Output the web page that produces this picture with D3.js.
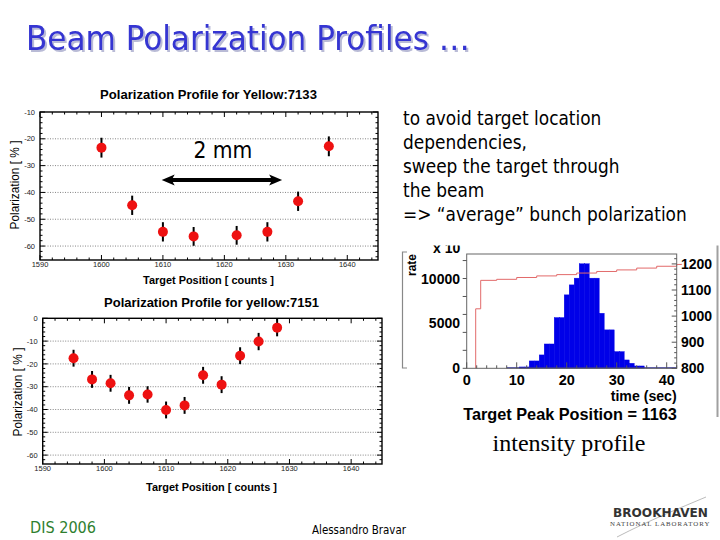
<!DOCTYPE html>
<html><head><meta charset="utf-8">
<script src="https://cdn.jsdelivr.net/npm/d3@7"></script>
<style>body{margin:0;background:#fff}svg{display:block}</style>
</head><body>
<svg id="c" width="720" height="540"></svg>
<script>
// ---------- data ----------
const profileTickX = [1590, 1600, 1610, 1620, 1630, 1640];

const run7133Pos = [1600, 1605, 1610, 1615, 1622, 1627, 1632, 1637];
const run7133Pol = [-23.3, -44.8, -54.7, -56.4, -56.0, -54.7, -43.3, -22.8];
const run7133Err = [3.7, 3.6, 3.6, 3.5, 3.5, 3.6, 3.6, 3.7];
const run7133TickY = [-10, -20, -30, -40, -50, -60];

const run7151Pos = [1595, 1598, 1601, 1604, 1607, 1610, 1613, 1616, 1619, 1622, 1625, 1628];
const run7151Pol = [-17.5, -26.8, -28.5, -33.8, -33.4, -40.2, -38.2, -25.0, -29.1, -16.4, -10.2, -4.1];
const run7151Err = [3.7, 3.7, 3.7, 3.7, 3.6, 3.7, 3.7, 3.7, 3.7, 3.7, 3.8, 3.8];
const run7151TickY = [0, -10, -20, -30, -40, -50, -60];

const histBinStart = [10.5, 11.5, 12.5, 13.5, 14.5, 15.5, 16.5, 17.5, 18.5, 19.5, 20.5, 21.5, 22.5,
                      23.5, 24.5, 25.5, 26.5, 27.5, 28.5, 29.5, 30.5, 31.5, 32.5, 33.5, 34.5];
const histRate = [150, 150, 820, 820, 1490, 2710, 2710, 5650, 5650, 8180, 9290, 10040, 11640,
                  11640, 10040, 10040, 6130, 4280, 4280, 1860, 1860, 930, 560, 260, 260];
const histTickX = [0, 10, 20, 30, 40];
const histTickLeft = [0, 5000, 10000];
const histTickRight = [800, 900, 1000, 1100, 1200];
const targetTime = [1.8, 1.8, 2.8, 6, 10, 14, 18, 22, 26, 30, 34, 38, 42, 43];
const targetPos  = [800, 1028, 1137, 1141, 1148, 1154, 1159, 1165, 1171, 1177, 1184, 1191, 1198, 1200];

const bodyLines = ["to avoid target location", "dependencies,", "sweep the target through",
                   "the beam", "=> \u201caverage\u201d bunch polarization"];

// ---------- helpers ----------
const svg = d3.select("#c");
function fit(sel, w) {
  const n = sel.node(); const L = n.getComputedTextLength();
  const fs = parseFloat(sel.attr("font-size"));
  if (L > 0) sel.attr("font-size", (fs * w / L).toFixed(2));
  return sel;
}
const rootFont = "'Liberation Sans', Arial, Helvetica, sans-serif";
const slideFont = "'DejaVu Sans Condensed', 'DejaVu Sans', Tahoma, sans-serif";

// ---------- title ----------
const T = "Beam Polarization Profiles \u2026";
const tt = svg.append("text").attr("x", 26).attr("y", 49.5).attr("font-family", slideFont)
  .attr("font-size", 38).attr("fill", "#3535d2")
  .style("filter", "drop-shadow(2px 2px 0px #b9bbd6)").text(T);
fit(tt, 444);

// ---------- profile plots ----------
function profile(o) {
  const g = svg.append("g");
  const x = d3.scaleLinear().domain([1590, 1645]).range([o.l, o.r]);
  const y = d3.scaleLinear().domain(o.yDom).range([o.b, o.t]);
  g.selectAll(".grid").data(o.tickY.filter(v => y(v) > o.t + 2)).join("line")
    .attr("x1", o.l).attr("x2", o.r).attr("y1", d => y(d)).attr("y2", d => y(d))
    .attr("stroke", "#666").attr("stroke-width", 0.8).attr("stroke-dasharray", "1,1.5");
  const xt = x.ticks(28), yt = y.ticks(30);
  xt.forEach(v => {
    const maj = v % 10 === 0, len = maj ? 5 : 2.5;
    g.append("line").attr("x1", x(v)).attr("x2", x(v)).attr("y1", o.b).attr("y2", o.b - len).attr("stroke", "#000");
    g.append("line").attr("x1", x(v)).attr("x2", x(v)).attr("y1", o.t).attr("y2", o.t + len).attr("stroke", "#000");
  });
  yt.forEach(v => {
    const maj = v % 10 === 0, len = maj ? 5 : 2.5;
    g.append("line").attr("y1", y(v)).attr("y2", y(v)).attr("x1", o.l).attr("x2", o.l + len).attr("stroke", "#000");
    g.append("line").attr("y1", y(v)).attr("y2", y(v)).attr("x1", o.r).attr("x2", o.r - len).attr("stroke", "#000");
  });
  g.append("rect").attr("x", o.l).attr("y", o.t).attr("width", o.r - o.l).attr("height", o.b - o.t)
    .attr("fill", "none").attr("stroke", "#000").attr("stroke-width", 1.4);
  g.selectAll(".xl").data(profileTickX).join("text").attr("x", d => x(d)).attr("y", o.b + 7)
    .attr("text-anchor", "middle").attr("font-family", rootFont).attr("font-size", 7.5)
    .attr("fill", "#222").text(d => d);
  g.selectAll(".yl").data(o.tickY).join("text").attr("x", o.l - 5).attr("y", d => y(d) + 2.6)
    .attr("text-anchor", "end").attr("font-family", rootFont).attr("font-size", 7.5)
    .attr("fill", "#222").text(d => d);
  fit(g.append("text").attr("x", o.titleX).attr("y", o.titleY).attr("text-anchor", "middle")
    .attr("font-family", rootFont).attr("font-weight", "bold").attr("font-size", 12).text(o.title), o.titleW);
  fit(g.append("text").attr("x", o.titleX).attr("y", o.xlabY).attr("text-anchor", "middle")
    .attr("font-family", rootFont).attr("font-weight", "bold").attr("font-size", 12)
    .text("Target Position [ counts ]"), 131);
  fit(g.append("text").attr("transform", `translate(${o.ylabX},${o.ylabY}) rotate(-90)`)
    .attr("text-anchor", "middle").attr("font-family", rootFont).attr("font-size", 11)
    .text("Polarization [ % ]"), 89);
  const pts = o.pos.map((p, i) => ({ p, v: o.pol[i], e: o.err[i] }));
  g.selectAll(".eb").data(pts).join("line").attr("x1", d => x(d.p)).attr("x2", d => x(d.p))
    .attr("y1", d => y(d.v - d.e)).attr("y2", d => y(d.v + d.e)).attr("stroke", "#000").attr("stroke-width", 2);
  g.selectAll(".pt").data(pts).join("circle").attr("cx", d => x(d.p)).attr("cy", d => y(d.v))
    .attr("r", 5).attr("fill", "#ee1111");
  return { x, y, g };
}

const P1 = profile({ l: 40, r: 378, t: 112, b: 260, yDom: [-65.2, -10], tickY: run7133TickY,
  pos: run7133Pos, pol: run7133Pol, err: run7133Err, title: "Polarization Profile for Yellow:7133",
  titleX: 208.5, titleY: 99.3, titleW: 217, xlabY: 283.5, ylabX: 19, ylabY: 185 });
const P2 = profile({ l: 42.7, r: 382, t: 318.3, b: 464, yDom: [-63.9, 0], tickY: run7151TickY,
  pos: run7151Pos, pol: run7151Pol, err: run7151Err, title: "Polarization Profile for yellow:7151",
  titleX: 211.5, titleY: 306.7, titleW: 215, xlabY: 490.5, ylabX: 22, ylabY: 392 });

// 2 mm annotation (in data units of the first plot)
const arrowFrom = 1609.8, arrowTo = 1629.4, arrowLevel = -35.4;
{
  const x = P1.x, y = P1.y, yy = y(arrowLevel), x1 = x(arrowFrom), x2 = x(arrowTo);
  svg.append("line").attr("x1", x1 + 8).attr("x2", x2 - 8).attr("y1", yy).attr("y2", yy)
    .attr("stroke", "#000").attr("stroke-width", 4);
  svg.append("path").attr("d", `M${x1},${yy} L${x1 + 13},${yy - 5.5} L${x1 + 10},${yy} L${x1 + 13},${yy + 5.5} Z`).attr("fill", "#000");
  svg.append("path").attr("d", `M${x2},${yy} L${x2 - 13},${yy - 5.5} L${x2 - 10},${yy} L${x2 - 13},${yy + 5.5} Z`).attr("fill", "#000");
  fit(svg.append("text").attr("x", x((arrowFrom + arrowTo) / 2) + 1).attr("y", 158.3)
    .attr("text-anchor", "middle").attr("font-family", slideFont).attr("font-size", 23).text("2 mm"), 59);
}

// ---------- body text ----------
{
  const g = svg.append("g").attr("font-family", slideFont).attr("fill", "#000");
  const lines = g.selectAll("text").data(bodyLines).join("text")
    .attr("x", 403).attr("y", (d, i) => 125 + i * 24).attr("font-size", 19).text(d => d);
  const last = lines.filter((d, i) => i === bodyLines.length - 1).node();
  const s = 284 / last.getComputedTextLength();
  lines.attr("font-size", (19 * s).toFixed(2));
}

// ---------- histogram ----------
{
  const clip = svg.append("defs").append("clipPath").attr("id", "hc");
  clip.append("rect").attr("x", 395).attr("y", 245.5).attr("width", 325).attr("height", 180);
  const g = svg.append("g").attr("clip-path", "url(#hc)");
  const l = 466.7, r = 676.7, t = 254, b = 368.3;
  const x = d3.scaleLinear().domain([0, 42]).range([l, r]);
  const yL = d3.scaleLinear().domain([0, 12730]).range([b, t]);
  const yR = d3.scaleLinear().domain([800, 1238]).range([b, t]);
  g.selectAll(".bar").data(histBinStart.map((s, i) => ({ s, v: histRate[i] }))).join("rect")
    .attr("x", d => x(d.s)).attr("width", d => x(d.s + 1) - x(d.s))
    .attr("y", d => yL(d.v)).attr("height", d => b - yL(d.v))
    .attr("fill", "#0000e8").attr("stroke", "#0000e8").attr("stroke-width", 0.4);
  g.append("line").attr("x1", x(8)).attr("x2", r).attr("y1", b - 0.5).attr("y2", b - 0.5)
    .attr("stroke", "#2a2aa0").attr("stroke-width", 1.2);
  const ln = d3.line().x((d, i) => x(targetTime[i])).y(d => yR(d)).curve(d3.curveStepAfter);
  g.append("path").attr("d", ln(targetPos)).attr("fill", "none").attr("stroke", "#e26a6a").attr("stroke-width", 1);
  g.append("rect").attr("x", l).attr("y", t).attr("width", r - l).attr("height", b - t)
    .attr("fill", "none").attr("stroke", "#666").attr("stroke-width", 1);
  yL.ticks(6).forEach(v => g.append("line").attr("x1", l - 4).attr("x2", l).attr("y1", yL(v)).attr("y2", yL(v)).attr("stroke", "#555"));
  g.selectAll(".ll").data(histTickLeft).join("text").attr("x", 460).attr("y", d => yL(d) + 5)
    .attr("text-anchor", "end").attr("font-family", rootFont).attr("font-weight", "bold").attr("font-size", 14).text(d => d);
  d3.range(800, 1240, 20).forEach(v => g.append("line").attr("x1", r).attr("x2", r - (v % 100 === 0 ? 5 : 2.5))
    .attr("y1", yR(v)).attr("y2", yR(v)).attr("stroke", "#555"));
  g.selectAll(".rl").data(histTickRight).join("text").attr("x", 681).attr("y", d => yR(d) + 5)
    .attr("font-family", rootFont).attr("font-weight", "bold").attr("font-size", 14).text(d => d);
  x.ticks(21).forEach(v => g.append("line").attr("x1", x(v)).attr("x2", x(v)).attr("y1", b).attr("y2", b - (v % 10 === 0 ? 6 : 3)).attr("stroke", "#555"));
  g.selectAll(".bl").data(histTickX).join("text").attr("x", d => x(d)).attr("y", 385)
    .attr("text-anchor", "middle").attr("font-family", rootFont).attr("font-weight", "bold").attr("font-size", 14.5).text(d => d);
  g.append("text").attr("x", 433).attr("y", 253).attr("font-family", rootFont).attr("font-weight", "bold")
    .attr("font-size", 14).text("x 10");
  g.append("text").attr("transform", "translate(416,265) rotate(-90)").attr("text-anchor", "middle")
    .attr("font-family", rootFont).attr("font-weight", "bold").attr("font-size", 12).text("rate");
  fit(g.append("text").attr("x", r).attr("y", 400.5).attr("text-anchor", "end").attr("font-family", rootFont)
    .attr("font-weight", "bold").attr("font-size", 13).text("time (sec)"), 66);
  fit(g.append("text").attr("x", 570).attr("y", 419.5).attr("text-anchor", "middle").attr("font-family", rootFont)
    .attr("font-weight", "bold").attr("font-size", 17).text("Target Peak Position = 1163"), 214);
  g.append("path").attr("d", "M407,252 H402.5 V368 H407").attr("fill", "none").attr("stroke", "#888").attr("stroke-width", 1.2);
  g.append("line").attr("x1", 717.5).attr("x2", 717.5).attr("y1", 245).attr("y2", 417).attr("stroke", "#a0a0a0").attr("stroke-width", 2);
}

// intensity profile label
fit(svg.append("text").attr("x", 569).attr("y", 451).attr("text-anchor", "middle")
  .attr("font-family", "'Liberation Serif', 'Times New Roman', serif").attr("font-size", 21).text("intensity profile"), 153);

// ---------- footer ----------
fit(svg.append("text").attr("x", 30).attr("y", 533.3).attr("font-family", slideFont).attr("font-size", 16)
  .attr("fill", "#2f7f2f").text("DIS 2006"), 66);
fit(svg.append("text").attr("x", 312).attr("y", 534).attr("font-family", slideFont).attr("font-size", 12)
  .attr("fill", "#000").text("Alessandro Bravar"), 94);
{
  const g = svg.append("g");
  g.append("path").attr("d", "M617,537 C650,520 680,508 706,497").attr("fill", "none").attr("stroke", "#aaa").attr("stroke-width", 0.8);
  fit(g.append("text").attr("x", 613).attr("y", 516.5).attr("font-family", "'DejaVu Sans', sans-serif")
    .attr("font-weight", "bold").attr("font-size", 12).attr("fill", "#333").text("BROOKHAVEN"), 95);
  fit(g.append("text").attr("x", 610).attr("y", 526).attr("font-family", "'Liberation Serif', serif")
    .attr("font-size", 6).attr("letter-spacing", 1).attr("fill", "#444").text("NATIONAL LABORATORY"), 103);
}
</script>
</body></html>
